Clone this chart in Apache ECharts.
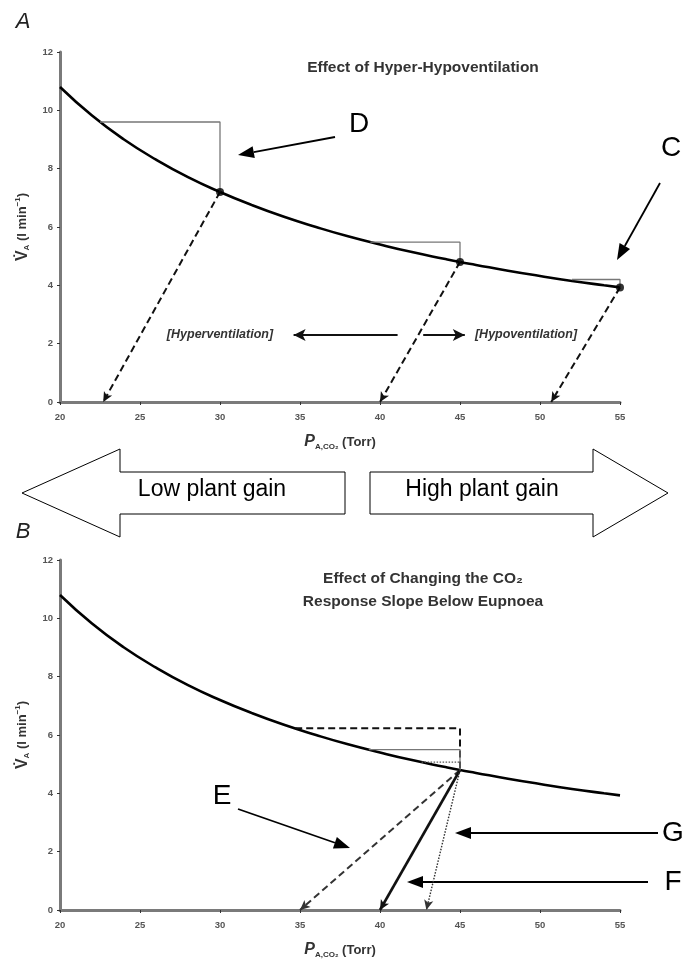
<!DOCTYPE html>
<html><head><meta charset="utf-8">
<script src="https://cdn.jsdelivr.net/npm/echarts@6/dist/echarts.min.js"></script>
<style>html,body{margin:0;padding:0;background:#fff}#c{width:691px;height:965px}</style>
</head><body><div id="c"></div>
<script>
// ---------- data ----------
const xTicks = [20, 25, 30, 35, 40, 45, 50, 55];
const yTicks = [0, 2, 4, 6, 8, 10, 12];
const pco2 = [20, 22, 24, 26, 28, 30, 32, 34, 36, 38, 40, 42, 44, 45, 46, 48, 50, 52, 54, 55];
const vaCurve = [10.8, 9.82, 9.0, 8.31, 7.71, 7.2, 6.75, 6.35, 6.0, 5.68, 5.4, 5.14, 4.91, 4.8, 4.7, 4.5, 4.32, 4.15, 4.0, 3.93];
// Panel A
const aPoints = [[30, 7.2], [45, 4.8], [55, 3.93]];
const aRectHyper = [[22.5, 9.6], [30, 9.6], [30, 7.2]];
const aRectMid = [[39.4, 5.48], [45, 5.48], [45, 4.8]];
const aRectHypo = [[52, 4.2], [55, 4.2], [55, 3.93]];
const aArrowEnds = [[22.7, 0], [40, 0], [50.7, 0]];
const aHyperArrow = [[41.1, 2.3], [34.6, 2.3]];
const aHypoArrow = [[42.7, 2.3], [45.3, 2.3]];
// Panel B
const bOrigin = [45, 4.8];
const bRectDashed = [[34.7, 6.23], [45, 6.23], [45, 4.8]];
const bRectSolid = [[39.3, 5.5], [45, 5.5], [45, 4.8]];
const bRectDotted = [[42.6, 5.07], [45, 5.07]];
const bEndE = [35, 0];
const bEndF = [40, 0];
const bEndG = [42.9, 0];

// ---------- chart ----------
const FONT = 'Liberation Sans, Arial, sans-serif';
const chart = echarts.init(document.getElementById('c'), null, {renderer: 'canvas'});
const curve = pco2.map((p, i) => [p, vaCurve[i]]);

function xAxisDef(gi) {
  return {
    type: 'value', gridIndex: gi, min: 20, max: 55, interval: 5,
    axisLine: {lineStyle: {color: '#7a7a7a', width: 3}},
    axisTick: {length: 3, lineStyle: {color: '#333', width: 1}},
    splitLine: {show: false},
    axisLabel: {fontSize: 9.5, fontWeight: 'bold', color: '#555', fontFamily: FONT, margin: 10},
    name: '{p|P}{s|A,CO₂}{t| (Torr)}', nameLocation: 'middle', nameGap: 31,
    nameTextStyle: {rich: {
      p: {fontSize: 16, fontStyle: 'italic', fontWeight: 'bold', color: '#333', fontFamily: FONT},
      s: {fontSize: 8, fontWeight: 'bold', color: '#333', fontFamily: FONT, padding: [10, 0, 0, 0]},
      t: {fontSize: 13, fontWeight: 'bold', color: '#333', fontFamily: FONT}
    }}
  };
}
function yAxisDef(gi) {
  return {
    type: 'value', gridIndex: gi, min: 0, max: 12, interval: 2,
    axisLine: {show: true, lineStyle: {color: '#7a7a7a', width: 3}},
    axisTick: {show: true, length: 3, lineStyle: {color: '#333', width: 1}},
    splitLine: {show: false},
    axisLabel: {fontSize: 9.5, fontWeight: 'bold', color: '#555', fontFamily: FONT, margin: 7},
    name: '{v|V̇}{s|A}{t| (l min}{u|−1}{t|)}', nameLocation: 'middle', nameGap: 29, nameRotate: 90,
    nameTextStyle: {rich: {
      v: {fontSize: 16, fontWeight: 'bold', color: '#333', fontFamily: FONT},
      s: {fontSize: 8, fontWeight: 'bold', color: '#333', fontFamily: FONT, padding: [9, 0, 0, 0]},
      t: {fontSize: 13, fontWeight: 'bold', color: '#333', fontFamily: FONT},
      u: {fontSize: 8, fontWeight: 'bold', color: '#333', fontFamily: FONT, padding: [0, 0, 9, 0]}
    }}
  };
}

function seg(gi, data, style, smooth) {
  return {type: 'line', xAxisIndex: gi, yAxisIndex: gi, data: data, symbol: 'none', smooth: smooth || false,
    lineStyle: style, silent: true, z: 3};
}
function arrows(gi, pairs, style, size) {
  return {type: 'line', xAxisIndex: gi, yAxisIndex: gi, data: [], silent: true,
    markLine: {silent: true, symbol: ['none', 'arrow'], symbolSize: size || [7, 10], label: {show: false},
      lineStyle: style, data: pairs.map(p => [{coord: p[0]}, {coord: p[1]}])}, z: 4};
}

const series = [
  // Panel A
  seg(0, curve, {color: '#000', width: 2.6}, 0.5),
  seg(0, aRectHyper, {color: '#777', width: 1.3}),
  seg(0, aRectMid, {color: '#777', width: 1.3}),
  seg(0, aRectHypo, {color: '#777', width: 1.3}),
  {type: 'scatter', xAxisIndex: 0, yAxisIndex: 0, data: aPoints, symbolSize: 8, itemStyle: {color: '#000'}, z: 5, silent: true},
  arrows(0, aPoints.map((p, i) => [p, aArrowEnds[i]]), {color: '#111', width: 2, type: [7, 4]}),
  arrows(0, [aHyperArrow, aHypoArrow], {color: '#111', width: 2, type: 'solid'}, [9, 12]),
  // Panel B
  seg(1, curve, {color: '#000', width: 2.6}, 0.5),
  seg(1, bRectDashed, {color: '#111', width: 2, type: [7, 4]}),
  seg(1, bRectSolid, {color: '#777', width: 1.3}),
  seg(1, bRectDotted, {color: '#555', width: 1.3, type: [1.5, 1.5]}),
  arrows(1, [[bOrigin, bEndE]], {color: '#333', width: 2, type: [7, 4]}),
  arrows(1, [[bOrigin, bEndF]], {color: '#111', width: 2.6, type: 'solid'}),
  arrows(1, [[bOrigin, bEndG]], {color: '#333', width: 1.4, type: [1.5, 1.5]})
];

// annotation arrows (pixel space)
function annArrow(x1, y1, x2, y2, hl, hw, lw) {
  const a = Math.atan2(y2 - y1, x2 - x1);
  const bx = x2 - hl * Math.cos(a), by = y2 - hl * Math.sin(a);
  const nx = -Math.sin(a) * hw / 2, ny = Math.cos(a) * hw / 2;
  return [
    {type: 'line', shape: {x1: x1, y1: y1, x2: bx, y2: by}, style: {stroke: '#000', lineWidth: lw || 1.8}},
    {type: 'polygon', shape: {points: [[x2, y2], [bx + nx, by + ny], [bx - nx, by - ny]]}, style: {fill: '#000'}}
  ];
}
function txt(x, y, t, font, fill) {
  return {type: 'text', x: x, y: y, style: {text: t, font: font, fill: fill || '#000',
    textAlign: 'center', textVerticalAlign: 'middle'}};
}
function bigArrow(tipX, baseX, endX, cy, headH, bodyH) {
  const pts = [[tipX, cy], [baseX, cy - headH / 2], [baseX, cy - bodyH / 2], [endX, cy - bodyH / 2],
    [endX, cy + bodyH / 2], [baseX, cy + bodyH / 2], [baseX, cy + headH / 2]];
  return {type: 'polygon', shape: {points: pts}, style: {fill: '#fff', stroke: '#000', lineWidth: 1}};
}

const graphics = [
  txt(23, 22, 'A', 'italic 22px ' + FONT, '#222'),
  txt(23, 532, 'B', 'italic 22px ' + FONT, '#222'),
  txt(423, 68, 'Effect of Hyper-Hypoventilation', 'bold 15.5px ' + FONT, '#333'),
  txt(423, 579, 'Effect of Changing the CO₂', 'bold 15.5px ' + FONT, '#333'),
  txt(423, 602, 'Response Slope Below Eupnoea', 'bold 15.5px ' + FONT, '#333'),
  txt(220, 335, '[Hyperventilation]', 'italic bold 12.5px ' + FONT, '#333'),
  txt(526, 335, '[Hypoventilation]', 'italic bold 12.5px ' + FONT, '#333'),
  txt(359, 124, 'D', '28px ' + FONT),
  txt(671, 148, 'C', '28px ' + FONT),
  txt(222, 796, 'E', '28px ' + FONT),
  txt(673, 833, 'G', '28px ' + FONT),
  txt(673, 882, 'F', '28px ' + FONT),
  bigArrow(22, 120, 345, 493, 88, 42),
  bigArrow(668, 593, 370, 493, 88, 42),
  txt(212, 490, 'Low plant gain', '23px ' + FONT),
  txt(482, 490, 'High plant gain', '23px ' + FONT)
].concat(
  annArrow(335, 137, 238, 155, 16, 12),
  annArrow(660, 183, 617, 260, 16, 12),
  annArrow(238, 809, 350, 848, 16, 12),
  annArrow(658, 833, 455, 833, 16, 12),
  annArrow(648, 882, 407, 882, 16, 12)
);

chart.setOption({
  animation: false,
  backgroundColor: '#fff',
  grid: [
    {left: 60, right: 71, top: 52, height: 350},
    {left: 60, right: 71, top: 560, height: 350}
  ],
  xAxis: [xAxisDef(0), xAxisDef(1)],
  yAxis: [yAxisDef(0), yAxisDef(1)],
  series: series,
  graphic: graphics
});
</script></body></html>
